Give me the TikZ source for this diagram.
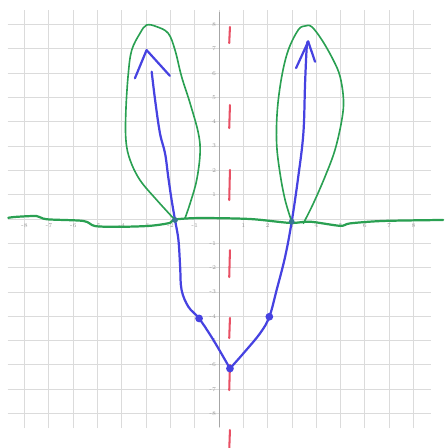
\documentclass[tikz,border=0pt]{standalone}
\usepackage{xcolor}
\usepackage{tikz}
\usetikzlibrary{calc}

\definecolor{penblue}{RGB}{70,66,225}
\definecolor{pengreen}{RGB}{42,160,82}
\definecolor{penred}{RGB}{232,80,100}

\begin{document}
\begin{tikzpicture}[
    x=0.5cm, y=0.5cm,
    every node/.style={font=\fontsize{3.4}{4}\selectfont, text=gray!80, inner sep=0.6pt},
    gridline/.style={draw=gray!28, line width=0.45pt},
    yaxis/.style={draw=gray!70, line width=0.5pt},
    redmark/.style={draw=penred, line width=1.2pt, line cap=round},
    bluepen/.style={draw=penblue, line width=1.3pt, line cap=round, line join=round},
    greenpen/.style={draw=pengreen, line width=0.95pt, line cap=round, line join=round},
    bluedot/.style={circle, fill=penblue, inner sep=0pt, minimum size=1.6mm},
    crossdot/.style={circle, fill=penblue!45!pengreen, inner sep=0pt, minimum size=1.2mm}
]
\useasboundingbox (-9.01,-9.42) rectangle (9.30,9.01);
% grid and axis
\foreach \k in {-8,...,8} {
  \draw[gridline] (\k,-8.6) -- (\k,8.6);
  \draw[gridline] (-8.7,\k) -- (8.7,\k);
}
\draw[yaxis] (0,-8.55) -- (0,8.5);
\foreach \k in {-8,...,-1,1,2,...,8} {
  \node[anchor=north] (xl\k) at (\k,-0.14) {\k};
  \node[anchor=east]  (yl\k) at (-0.06,\k) {\k};
}
% red dashed line
\foreach \a/\b in {7.90/7.24, 4.69/3.74, 2.02/0.78, -1.28/-2.39, -4.07/-4.90, -6.00/-7.04, -8.68/-9.50}
  \draw[redmark] (0.45,\a) -- (0.42,\b);
% blue graph
\coordinate (ldot)  at (-0.82,-4.09);
\coordinate (vmin)  at (0.45,-6.15);
\coordinate (rdot)  at (2.07,-4.02);
\coordinate (ltip)  at (-2.98,6.95);
\coordinate (rtip)  at (3.67,7.30);
\coordinate (lroot) at (-1.81,-0.04);
\coordinate (rroot) at (2.99,-0.11);
\draw[bluepen] plot[smooth, tension=0.6] coordinates {(-2.77,6.06) (-2.63,4.90) (-2.43,3.53) (-2.22,2.70) (-2.09,1.74) (-1.95,0.78) (lroot) (-1.67,-0.86) (-1.60,-1.96) (-1.54,-2.92) (-1.26,-3.61) (ldot) (-0.23,-4.98) (vmin)};
\draw[bluepen] plot[smooth, tension=0.6] coordinates {(vmin) (1.00,-5.53) (1.69,-4.70) (rdot) (2.37,-2.92) (2.72,-1.55) (rroot) (3.26,1.74) (3.47,3.53) (3.54,5.58) (3.61,7.09) (rtip)};
\draw[bluepen] (-3.46,5.79) -- (ltip) -- (-2.02,5.89);
\draw[bluepen] (3.17,6.21) -- (rtip) -- (3.95,6.47);
\node[bluedot] (ldotm) at (ldot) {};
\node[bluedot] (vminm) at (vmin) {};
\node[bluedot] (rdotm) at (rdot) {};
% green
\draw[greenpen, line width=1.3pt] plot[smooth, tension=0.5] coordinates {(-8.67,0.05) (-8.33,0.09) (-7.50,0.12) (-7.09,-0.01) (-5.58,-0.08) (-5.10,-0.29) (-4.07,-0.32) (-2.84,-0.28) (-2.02,-0.16) (-1.81,-0.02) (-0.78,0.04) (1.28,0.00) (2.92,-0.16) (3.74,-0.11) (4.98,-0.28) (5.39,-0.18) (6.75,-0.08) (9.22,-0.04)};
\draw[greenpen] plot[smooth, tension=0.6] coordinates {(lroot) (-2.56,0.78) (-3.25,1.60) (-3.66,2.43) (-3.83,3.25) (-3.83,4.49) (-3.73,6.00) (-3.59,6.95) (-3.25,7.64) (-2.98,7.98) (-2.56,7.91) (-2.09,7.64) (-1.81,6.95) (-1.54,5.86) (-1.19,4.76) (-0.85,3.53) (-0.78,2.70) (-0.92,1.60) (-1.19,0.64) (-1.40,0.03)};
\draw[greenpen] plot[smooth, tension=0.6] coordinates {(rroot) (2.72,0.78) (2.51,1.88) (2.37,3.11) (2.40,4.49) (2.58,5.86) (2.85,6.95) (3.26,7.78) (3.54,7.94) (3.81,7.91) (4.23,7.37) (4.70,6.54) (4.98,5.86) (5.12,4.90) (5.05,4.07) (4.77,2.84) (4.36,1.74) (3.88,0.64) (3.47,-0.18)};
\node[crossdot] (lrootm) at (lroot) {};
\node[crossdot] (rrootm) at (rroot) {};
\end{tikzpicture}
\end{document}
